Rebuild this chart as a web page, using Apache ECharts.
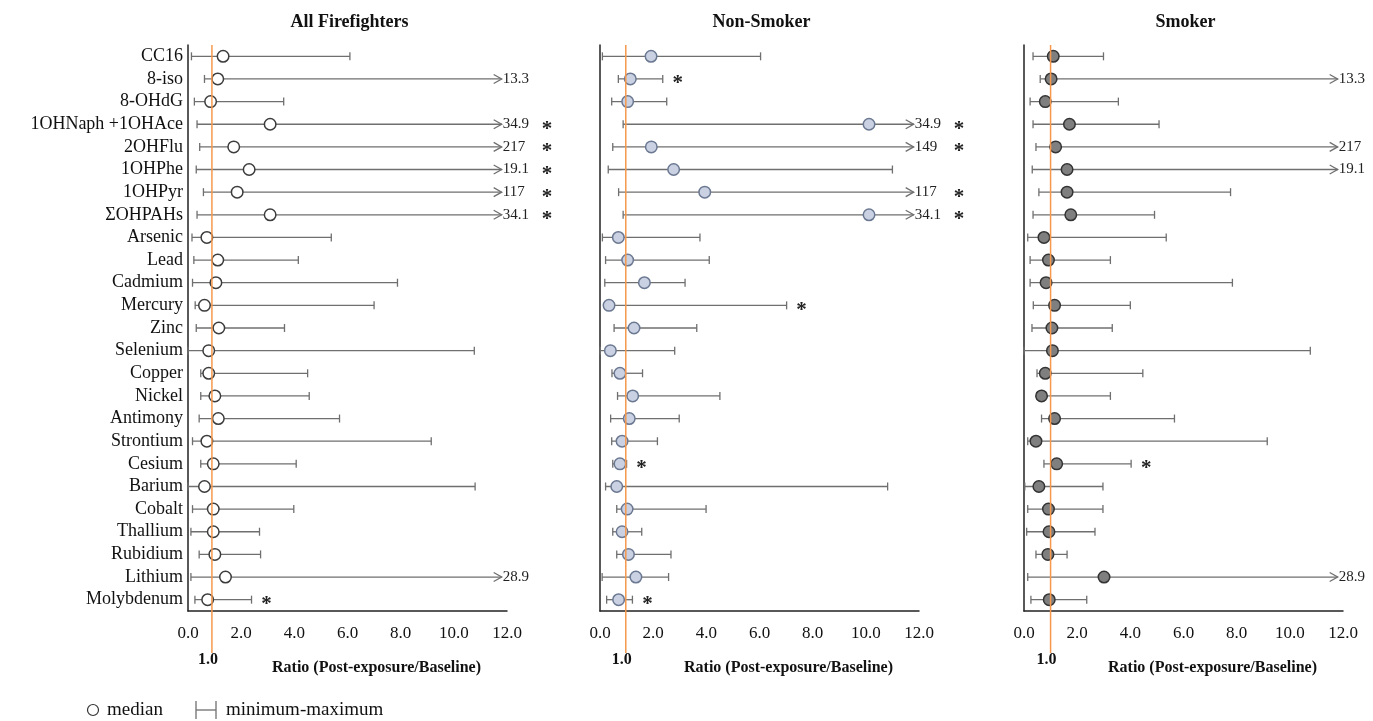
<!DOCTYPE html>
<html><head><meta charset="utf-8">
<script src="https://cdn.jsdelivr.net/npm/echarts@6/dist/echarts.min.js"></script>
<style>html,body{margin:0;padding:0;background:#fff}#c{width:1373px;height:721px}</style>
</head><body><div id="c"></div>
<script>
const categories = ['CC16','8-iso','8-OHdG','1OHNaph +1OHAce','2OHFlu','1OHPhe','1OHPyr','ΣOHPAHs','Arsenic','Lead','Cadmium','Mercury','Zinc','Selenium','Copper','Nickel','Antimony','Strontium','Cesium','Barium','Cobalt','Thallium','Rubidium','Lithium','Molybdenum'];
const panelTitles = ['All Firefighters','Non-Smoker','Smoker'];
const xTickValues = [0, 2, 4, 6, 8, 10, 12];
const axisTitle = 'Ratio (Post-exposure/Baseline)';
const refLabel = '1.0';
const refLine = [0.9, 0.97, 1.0];

// All firefighters
const allMin = [0.13,0.62,0.24,0.34,0.44,0.31,0.58,0.34,0.15,0.22,0.17,0.27,0.31,0.0,0.48,0.48,0.42,0.17,0.48,0.0,0.17,0.11,0.42,0.11,0.26];
const allMed = [1.32,1.12,0.85,3.09,1.72,2.30,1.85,3.09,0.71,1.12,1.05,0.62,1.16,0.78,0.78,1.01,1.14,0.71,0.95,0.62,0.95,0.95,1.01,1.41,0.74];
const allMax = [6.09,13.3,3.6,34.9,217,19.1,117,34.1,5.39,4.15,7.88,7.0,3.63,10.77,4.5,4.56,5.7,9.15,4.07,10.8,3.98,2.69,2.73,28.9,2.39];
const allSig = [0,0,0,1,1,1,1,1,0,0,0,0,0,0,0,0,0,0,0,0,0,0,0,0,1];
// Non-smoker
const nonMin = [0.09,0.69,0.44,0.87,0.48,0.31,0.70,0.87,0.09,0.21,0.18,0.25,0.53,0.01,0.45,0.66,0.40,0.44,0.48,0.21,0.63,0.48,0.63,0.08,0.25];
const nonMed = [1.92,1.14,1.04,10.12,1.93,2.77,3.94,10.12,0.69,1.04,1.67,0.34,1.28,0.39,0.75,1.23,1.10,0.83,0.75,0.63,1.02,0.83,1.07,1.35,0.70];
const nonMax = [6.04,2.36,2.51,34.9,149,11.0,117,34.1,3.76,4.11,3.2,7.02,3.64,2.81,1.6,4.51,2.98,2.16,1.0,10.82,3.99,1.57,2.67,2.58,1.22];
const nonSig = [0,1,0,1,1,0,1,1,0,0,0,1,0,0,0,0,0,0,1,0,0,0,0,0,1];
// Smoker
const smkMin = [0.34,0.61,0.23,0.34,0.45,0.31,0.56,0.34,0.14,0.23,0.23,0.35,0.30,0.0,0.49,0.48,0.66,0.14,0.75,0.03,0.14,0.10,0.45,0.14,0.26];
const smkMed = [1.10,1.02,0.80,1.71,1.19,1.62,1.62,1.76,0.75,0.92,0.83,1.15,1.05,1.07,0.80,0.66,1.15,0.45,1.23,0.56,0.92,0.94,0.90,3.01,0.95];
const smkMax = [2.99,13.3,3.55,5.08,217,19.1,7.77,4.91,5.35,3.25,7.84,4.0,3.32,10.77,4.47,3.25,5.66,9.15,4.03,2.97,2.97,2.67,1.62,28.9,2.36];
const smkSig = [0,0,0,0,0,0,0,0,0,0,0,0,0,0,0,0,0,0,1,0,0,0,0,0,0];

const panels = [
  {min: allMin, med: allMed, max: allMax, sig: allSig, fill: '#ffffff', border: '#3c3c3c'},
  {min: nonMin, med: nonMed, max: nonMax, sig: nonSig, fill: '#c9d1e2', border: '#6b7891'},
  {min: smkMin, med: smkMed, max: smkMax, sig: smkSig, fill: '#7f7f7f', border: '#333333'}
];

const FONT = '"Liberation Serif", "Times New Roman", serif';
const AXIS_MAX = 12;
const ARROW_TIP = 11.8;
const SIG_TRUNC = 13.5;
const BAR = '#6f6f6f';
const grids = [
  {left: 188, top: 45, width: 319, height: 566},
  {left: 600, top: 45, width: 319, height: 566},
  {left: 1024, top: 45, width: 319, height: 566}
];

function makeRender() {
  return function (params, api) {
    const i = api.value(3);
    const mn = api.value(0), mx = api.value(2), sig = api.value(4);
    const y = api.coord([0, i])[1];
    const x0 = api.coord([mn, i])[0];
    const trunc = mx > AXIS_MAX;
    const x1 = api.coord([trunc ? ARROW_TIP : mx, i])[0];
    const st = {stroke: BAR, lineWidth: 1.3, fill: null};
    const ch = [];
    ch.push({type: 'line', shape: {x1: x0, y1: y, x2: x1, y2: y}, style: st});
    ch.push({type: 'line', shape: {x1: x0, y1: y - 4, x2: x0, y2: y + 4}, style: st});
    if (trunc) {
      ch.push({type: 'polyline', shape: {points: [[x1 - 8, y - 4.5], [x1, y], [x1 - 8, y + 4.5]]}, style: st});
      ch.push({type: 'text', style: {text: String(mx), x: x1 + 1, y: y, align: 'left', verticalAlign: 'middle', font: '15px ' + FONT, fill: '#222'}});
    } else {
      ch.push({type: 'line', shape: {x1: x1, y1: y - 4, x2: x1, y2: y + 4}, style: st});
    }
    if (sig) {
      const xs = trunc ? api.coord([SIG_TRUNC, i])[0] : x1 + 15;
      ch.push({type: 'text', style: {text: '*', x: xs, y: y + 5, align: 'center', verticalAlign: 'middle', font: 'bold 21px ' + FONT, fill: '#222'}});
    }
    return {type: 'group', children: ch};
  };
}

const xAxes = [], yAxes = [], series = [], titles = [];
panels.forEach((p, k) => {
  xAxes.push({
    gridIndex: k, type: 'value', min: 0, max: AXIS_MAX, interval: 2,
    splitLine: {show: false}, axisTick: {show: false},
    axisLine: {show: true, lineStyle: {color: '#222', width: 1.5}},
    axisLabel: {formatter: v => v.toFixed(1), fontFamily: FONT, fontSize: 17, color: '#111', margin: 14},
    name: axisTitle, nameLocation: 'middle', nameGap: 49,
    nameTextStyle: {fontFamily: FONT, fontSize: 16, fontWeight: 'bold', color: '#111', padding: [0, 0, 0, 58]}
  });
  yAxes.push({
    gridIndex: k, type: 'category', data: categories, inverse: true,
    axisTick: {show: false},
    axisLine: {show: true, lineStyle: {color: '#222', width: 1.5}},
    axisLabel: {show: k === 0, fontFamily: FONT, fontSize: 18, color: '#111', margin: 5, interval: 0}
  });
  const d = categories.map((c, i) => [p.min[i], p.med[i], p.max[i], i, p.sig[i]]);
  series.push({
    type: 'custom', xAxisIndex: k, yAxisIndex: k, clip: false, z: 2,
    renderItem: makeRender(), encode: {x: [0, 1, 2], y: 3}, data: d, silent: true
  });
  series.push({
    type: 'scatter', xAxisIndex: k, yAxisIndex: k, z: 4, symbol: 'circle', symbolSize: 11.5,
    itemStyle: {color: p.fill, borderColor: p.border, borderWidth: 1.5, opacity: 1},
    data: categories.map((c, i) => [p.med[i], i]), silent: true
  });
  titles.push({
    text: panelTitles[k], left: grids[k].left + grids[k].width / 2 - 3, top: 8, textAlign: 'center',
    textStyle: {fontFamily: FONT, fontSize: 18, fontWeight: 'bold', color: '#111'}
  });
});

const chart = echarts.init(document.getElementById('c'), null, {renderer: 'canvas'});
chart.setOption({
  animation: false, backgroundColor: '#fff',
  title: titles, grid: grids, xAxis: xAxes, yAxis: yAxes, series: series
});

const gfx = [];
for (let k = 0; k < 3; k++) {
  const x = chart.convertToPixel({xAxisIndex: k}, refLine[k]);
  const c0 = chart.convertToPixel({yAxisIndex: k}, 0);
  const c1 = chart.convertToPixel({yAxisIndex: k}, 1);
  const cN = chart.convertToPixel({yAxisIndex: k}, categories.length - 1);
  const band = c1 - c0;
  const top = c0 - band / 2, bottom = cN + band / 2;
  gfx.push({type: 'line', z: 10, shape: {x1: x, y1: top, x2: x, y2: bottom + 42}, style: {stroke: '#f5994e', lineWidth: 1.5}});
  gfx.push({type: 'text', z: 10, style: {text: refLabel, x: x - 4, y: bottom + 49, align: 'center', verticalAlign: 'middle', font: 'bold 16px ' + FONT, fill: '#111'}});
}
// legend
gfx.push({type: 'circle', shape: {cx: 93, cy: 710, r: 5.5}, style: {fill: '#fff', stroke: '#333', lineWidth: 1.2}});
gfx.push({type: 'text', style: {text: 'median', x: 107, y: 710, align: 'left', verticalAlign: 'middle', font: '19px ' + FONT, fill: '#111'}});
gfx.push({type: 'line', shape: {x1: 196, y1: 710, x2: 216, y2: 710}, style: {stroke: BAR, lineWidth: 1.3}});
gfx.push({type: 'line', shape: {x1: 196, y1: 701, x2: 196, y2: 719}, style: {stroke: BAR, lineWidth: 1.3}});
gfx.push({type: 'line', shape: {x1: 216, y1: 701, x2: 216, y2: 719}, style: {stroke: BAR, lineWidth: 1.3}});
gfx.push({type: 'text', style: {text: 'minimum-maximum', x: 226, y: 710, align: 'left', verticalAlign: 'middle', font: '19px ' + FONT, fill: '#111'}});
chart.setOption({graphic: gfx});
</script>
</body></html>
